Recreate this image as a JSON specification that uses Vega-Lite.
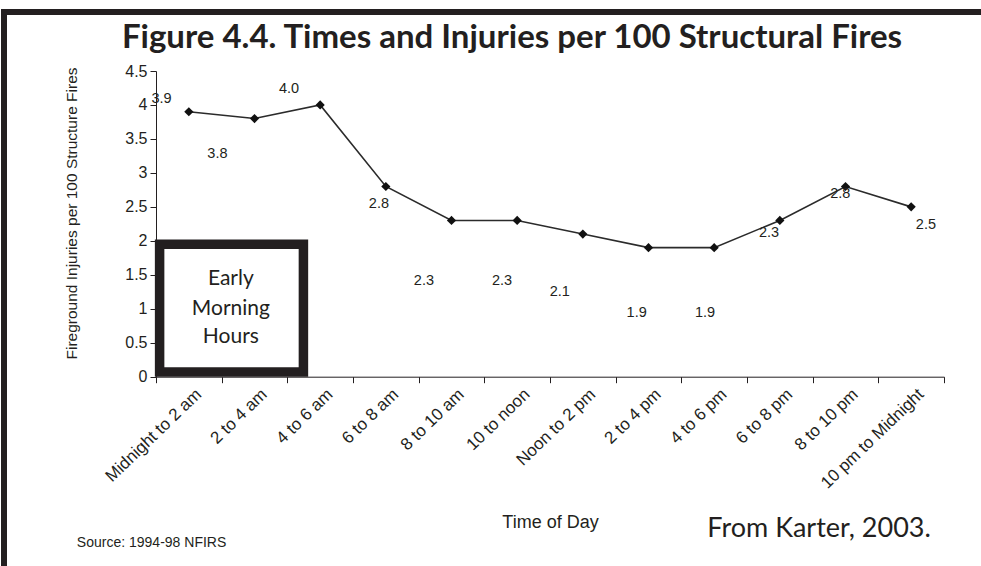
{
  "$schema": "https://vega.github.io/schema/vega-lite/v6.json",
  "width": 1016,
  "height": 600,
  "autosize": {"type": "none"},
  "padding": {"left": 4, "top": 12, "right": 0, "bottom": 0},
  "background": "white",
  "config": {
    "view": {"stroke": "#231f20", "strokeWidth": 6},
    "font": "Liberation Sans"
  },
  "title": {
    "text": "Figure 4.4. Times and Injuries per 100 Structural Fires",
    "font": "Lato",
    "fontSize": 33,
    "fontWeight": "bold",
    "color": "#231f20",
    "anchor": "middle",
    "frame": "group",
    "orient": "top",
    "baseline": "alphabetic",
    "offset": -69
  },
  "datasets": {
    "fires": [
      {"time": "Midnight to 2 am", "rate": 3.9},
      {"time": "2 to 4 am", "rate": 3.8},
      {"time": "4 to 6 am", "rate": 4.0},
      {"time": "6 to 8 am", "rate": 2.8},
      {"time": "8 to 10 am", "rate": 2.3},
      {"time": "10 to noon", "rate": 2.3},
      {"time": "Noon to 2 pm", "rate": 2.1},
      {"time": "2 to 4 pm", "rate": 1.9},
      {"time": "4 to 6 pm", "rate": 1.9},
      {"time": "6 to 8 pm", "rate": 2.3},
      {"time": "8 to 10 pm", "rate": 2.8},
      {"time": "10 pm to Midnight", "rate": 2.5}
    ],
    "labels": [
      {"hour": 0.17, "y": 4.09, "text": "3.9"},
      {"hour": 1.87, "y": 3.28, "text": "3.8"},
      {"hour": 4.05, "y": 4.24, "text": "4.0"},
      {"hour": 6.79, "y": 2.54, "text": "2.8"},
      {"hour": 8.16, "y": 1.41, "text": "2.3"},
      {"hour": 10.54, "y": 1.41, "text": "2.3"},
      {"hour": 12.3, "y": 1.25, "text": "2.1"},
      {"hour": 14.64, "y": 0.94, "text": "1.9"},
      {"hour": 16.72, "y": 0.94, "text": "1.9"},
      {"hour": 18.67, "y": 2.11, "text": "2.3"},
      {"hour": 20.84, "y": 2.69, "text": "2.8"},
      {"hour": 23.45, "y": 2.23, "text": "2.5"}
    ],
    "box": [{"h0": 0.11, "h1": 4.49, "y0": 0.07, "y1": 1.95}],
    "boxText": [
      {"hour": 2.28, "y": 1.35, "text": "Early"},
      {"hour": 2.28, "y": 0.91, "text": "Morning"},
      {"hour": 2.28, "y": 0.5, "text": "Hours"}
    ],
    "source": [{"hour": -2.41, "y": -2.51, "text": "Source: 1994-98 NFIRS"}],
    "credit": [{"hour": 23.6, "y": -2.36, "text": "From Karter, 2003."}]
  },
  "layer": [
    {
      "data": {"name": "fires"},
      "encoding": {
        "x": {
          "field": "time",
          "type": "nominal",
          "sort": null,
          "bandPosition": 0.5,
          "scale": {"type": "band", "range": [152, 940], "paddingInner": 0, "paddingOuter": 0},
          "axis": {
            "orient": "bottom",
            "offset": -235.3,
            "title": "Time of Day",
            "titleFont": "Liberation Sans",
            "titleFontSize": 18,
            "titleFontWeight": "normal",
            "titleColor": "#231f20",
            "titleBaseline": "alphabetic",
            "titleY": 151,
            "labelAngle": -44,
            "labelFont": "Liberation Sans",
            "labelFontSize": 17,
            "labelColor": "#231f20",
            "labelPadding": 3,
            "labelOffset": 4,
            "tickBand": "extent",
            "tickSize": 6,
            "tickColor": "#231f20",
            "domainColor": "#231f20",
            "grid": false
          }
        },
        "y": {
          "field": "rate",
          "type": "quantitative",
          "scale": {"domain": [0, 4.5], "range": [364.7, 59], "nice": false, "zero": false},
          "axis": {
            "orient": "left",
            "offset": -152,
            "values": [0, 0.5, 1, 1.5, 2, 2.5, 3, 3.5, 4, 4.5],
            "format": "~g",
            "title": "Fireground Injuries per 100 Structure Fires",
            "titleFont": "Liberation Sans",
            "titleFontSize": 15.5,
            "titleFontWeight": "normal",
            "titleColor": "#231f20",
            "titleBaseline": "alphabetic",
            "titleX": -80,
            "titleY": 201,
            "labelFont": "Liberation Sans",
            "labelFontSize": 16,
            "labelColor": "#231f20",
            "labelPadding": 3,
            "tickSize": 6,
            "tickColor": "#231f20",
            "domainColor": "#231f20",
            "grid": false
          }
        }
      },
      "layer": [
        {"mark": {"type": "line", "color": "#2b2b2b", "strokeWidth": 1.6}},
        {"mark": {"type": "point", "shape": "diamond", "filled": true, "color": "#111111", "size": 85, "opacity": 1}}
      ]
    },
    {
      "layer": [
        {
          "data": {"name": "box"},
          "mark": {"type": "rect", "fill": "white", "stroke": "#231f20", "strokeWidth": 9.5},
          "encoding": {
            "x": {"field": "h0", "type": "quantitative", "scale": {"domain": [0, 24], "range": [152, 940], "nice": false, "zero": false}, "axis": null},
            "x2": {"field": "h1"},
            "y": {"field": "y0", "type": "quantitative", "scale": {"domain": [0, 4.5], "range": [364.7, 59], "nice": false, "zero": false}},
            "y2": {"field": "y1"}
          }
        },
        {
          "data": {"name": "labels"},
          "mark": {"type": "text", "font": "Liberation Sans", "fontSize": 14.5, "color": "#231f20", "align": "center", "baseline": "middle"},
          "encoding": {
            "x": {"field": "hour", "type": "quantitative", "axis": null},
            "y": {"field": "y", "type": "quantitative"},
            "text": {"field": "text"}
          }
        },
        {
          "data": {"name": "boxText"},
          "mark": {"type": "text", "font": "Lato", "fontSize": 21, "color": "#231f20", "align": "center", "baseline": "alphabetic"},
          "encoding": {
            "x": {"field": "hour", "type": "quantitative", "axis": null},
            "y": {"field": "y", "type": "quantitative"},
            "text": {"field": "text"}
          }
        },
        {
          "data": {"name": "source"},
          "mark": {"type": "text", "font": "Liberation Sans", "fontSize": 14, "color": "#231f20", "align": "left", "baseline": "alphabetic"},
          "encoding": {
            "x": {"field": "hour", "type": "quantitative", "axis": null},
            "y": {"field": "y", "type": "quantitative"},
            "text": {"field": "text"}
          }
        },
        {
          "data": {"name": "credit"},
          "mark": {"type": "text", "font": "Lato", "fontSize": 27, "color": "#231f20", "align": "right", "baseline": "alphabetic"},
          "encoding": {
            "x": {"field": "hour", "type": "quantitative", "axis": null},
            "y": {"field": "y", "type": "quantitative"},
            "text": {"field": "text"}
          }
        }
      ]
    }
  ],
  "resolve": {"scale": {"x": "independent"}}
}
